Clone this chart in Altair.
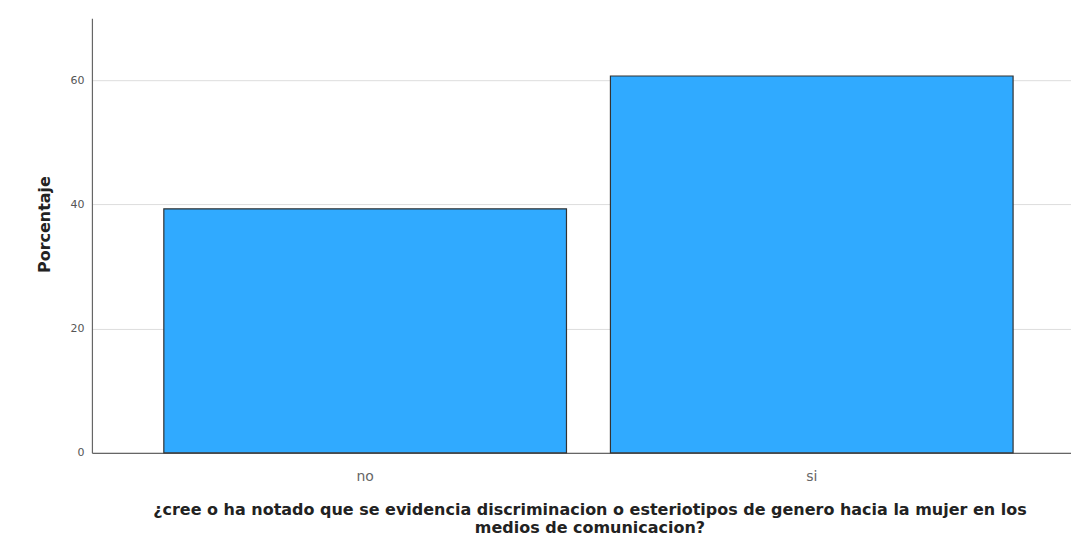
import altair as alt
import pandas as pd

categories = ["no", "si"]
percentages = [39.3, 60.7]

df = pd.DataFrame({"cat": categories, "pct": percentages})

x_title = ["¿cree o  ha notado que se evidencia discriminacion o esteriotipos de genero hacia la mujer en los",
           "medios de comunicacion?"]

chart = alt.Chart(df).mark_bar(
    color="#30AAFF", stroke="#333333", strokeWidth=1.2
).encode(
    x=alt.X("cat:N", sort=categories,
            scale=alt.Scale(range=[0, 994], paddingInner=0.0984, paddingOuter=0.161),
            axis=alt.Axis(title=x_title, labelAngle=0, ticks=False, labelPadding=17,
                          labelFontSize=14, labelColor="#666666", labelFont="DejaVu Sans",
                          titleFont="DejaVu Sans", titleFontSize=16, titleFontWeight="bold",
                          titleColor="#222222", titlePadding=18, titleX=498, titleLineHeight=18,
                          domainColor="#666666", domainWidth=1.2)),
    y=alt.Y("pct:Q", scale=alt.Scale(domain=[0, 70], nice=False),
            axis=alt.Axis(title="Porcentaje", values=[0, 20, 40, 60], ticks=False,
                          labelPadding=8, labelFontSize=11, labelColor="#555555",
                          labelFont="DejaVu Sans",
                          titleFont="DejaVu Sans", titleFontSize=16, titleFontWeight="bold",
                          titleColor="#222222", titlePadding=17, titleY=206,
                          grid=True, gridColor="#DDDDDD", gridWidth=1,
                          domainColor="#666666", domainWidth=1.2)),
).properties(
    width=980, height=435,
    autosize=alt.AutoSizeParams(type="none"),
    padding={"left": 84, "top": 10, "right": 0, "bottom": 95},
).configure_view(stroke=None)

chart.save("out.html", embed_options={"renderer": "svg", "actions": False})
